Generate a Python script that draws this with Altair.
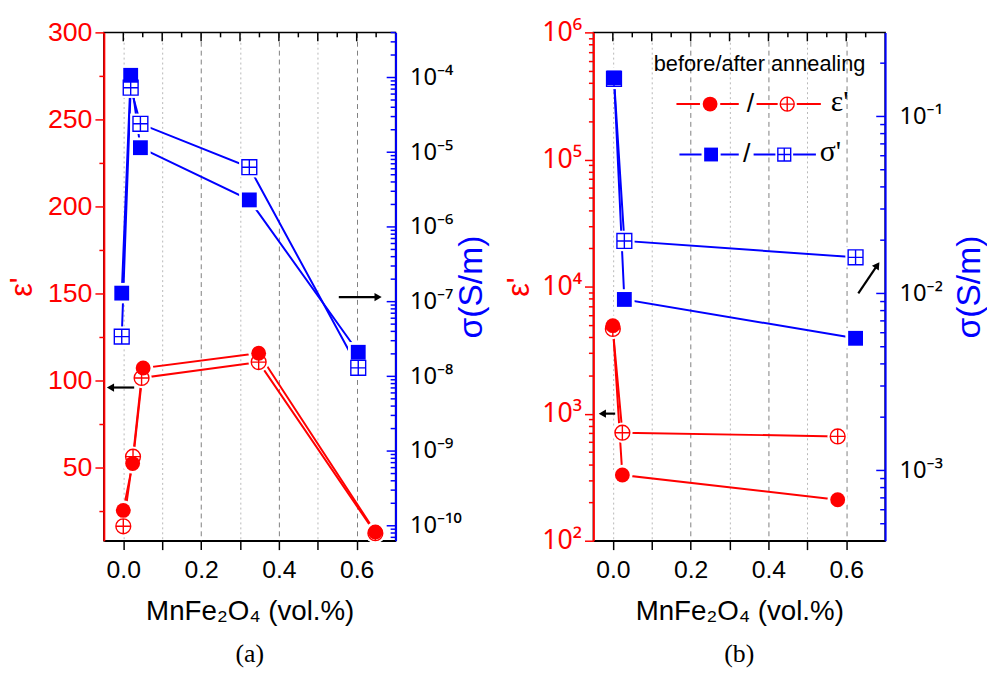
import altair as alt
import pandas as pd

# ---------------- data ----------------
# panel (a): epsilon' (linear, left axis) and sigma (log, right axis)
a_eps_x_before = [0.000, 0.024, 0.051, 0.348, 0.648]
a_eps_before = [25.4, 52.3, 107.2, 115.7, 13.0]
a_eps_x_after = [0.000, 0.025, 0.047, 0.348, 0.648]
a_eps_after = [16.3, 56.3, 101.5, 110.6, 12.3]
a_sig_x_before = [-0.004, 0.019, 0.044, 0.324, 0.604]
a_sig_before = [1.3e-7, 1.07e-4, 1.15e-5, 2.3e-6, 2.1e-8]
a_sig_x_after = [-0.004, 0.019, 0.044, 0.324, 0.604]
a_sig_after = [3.4e-8, 7.3e-5, 2.4e-5, 6.3e-6, 1.3e-8]

# panel (b): epsilon' (log, left axis) and sigma' (log, right axis)
b_eps_x_before = [0.000, 0.0245, 0.578]
b_eps_before = [4920, 329, 210]
b_eps_x_after = [0.000, 0.0245, 0.578]
b_eps_after = [4640, 708, 662]
b_sig_x_before = [0.003, 0.0296, 0.624]
b_sig_before = [0.165, 0.00925, 0.00558]
b_sig_x_after = [0.003, 0.0296, 0.624]
b_sig_after = [0.163, 0.0198, 0.0160]

# axis ticks
x_ticks = [0.0, 0.1, 0.2, 0.3, 0.4, 0.5, 0.6]
x_top_major = [0.0, 0.1, 0.2, 0.3, 0.4, 0.5, 0.6]
x_top_minor = [0.05, 0.15, 0.25, 0.35, 0.45, 0.55, 0.65]
a_eps_ticks = [25, 50, 75, 100, 125, 150, 175, 200, 225, 250, 275, 300]
a_sig_decades = [-10, -9, -8, -7, -6, -5, -4]
b_eps_decades = [2, 3, 4, 5, 6]
b_sig_decades = [-3, -2, -1]

# arrows (tail -> head), data coordinates
a_arrow_eps = {"x": [0.028], "x2": [-0.033], "y": [96.0]}
a_arrow_sig = {"x": [0.554], "x2": [0.655], "y": [1.15e-7]}
b_arrow_eps = {"x": [0.006], "x2": [-0.027], "y": [1000.0]}
b_arrow_sig = {"x": [0.631], "x2": [0.680], "y": [0.0100], "y2": [0.01446]}

# ---------------- style ----------------
RED = "#FF0000"
BLUE = "#0000FF"
SANS = "Liberation Sans, Arial, sans-serif"
SANS_SUP = "Noto Sans, Liberation Sans, DejaVu Sans, sans-serif"
SERIF = "Liberation Serif, Times New Roman, serif"
W, H = 295, 514
XDOM = [-0.05, 0.70]
A_EPS_DOM = [8, 300]
A_SIG_DOM = [10 ** -10.2, 10 ** -3.396]
B_EPS_DOM = [1e2, 1e6]
B_SIG_DOM = [10 ** -3.397, 10 ** -0.525]

SUP = str.maketrans("-0123456789", "⁻⁰¹²³⁴⁵⁶⁷⁸⁹")
DECADE = "abs(log(datum.value)/LN10 - round(log(datum.value)/LN10)) < 0.01"
GRID_MAJOR = "round(datum.value*10) == 2 || round(datum.value*10) == 4 || round(datum.value*10) == 6"

CIRCLE_PLUS = "M-1,0A1,1,0,1,1,1,0A1,1,0,1,1,-1,0ZM-1,0L1,0M0,-1L0,1"
SQUARE_PLUS = "M-1,-1L1,-1L1,1L-1,1ZM-1,0L1,0M0,-1L0,1"


def log_label_expr(decades):
    expr = "''"
    for e in decades:
        expr = f"(abs(log(datum.value)/LN10 - ({e})) < 0.01 ? '10{str(e).translate(SUP)}' : {expr})"
    return expr


def log_ticks(decades, dom):
    vals = []
    for e in range(min(decades) - 1, max(decades) + 1):
        for m in range(1, 10):
            v = m * 10.0 ** e
            if dom[0] * 0.999 <= v <= dom[1] * 1.001:
                vals.append(v)
    return vals


def xenc():
    return alt.X(
        "x:Q",
        scale=alt.Scale(domain=XDOM, nice=False, zero=False),
        axis=alt.Axis(
            values=x_ticks,
            labelExpr="round(datum.value*10) % 2 == 0 ? format(datum.value, '.1f') : ''",
            title="MnFe₂O₄ (vol.%)", titleFont=SANS, titleFontSize=28,
            titleFontWeight="normal", titleColor="black", titlePadding=16,
            labelFont=SANS, labelFontSize=25, labelColor="black", labelPadding=8,
            labelFlush=False,
            tickSize=9, tickColor="black", tickWidth=1.5,
            domainColor="black", domainWidth=1.5,
            grid=True,
            gridColor={"condition": {"test": GRID_MAJOR, "value": "#808080"}, "value": "#b8b8b8"},
            gridDash={"condition": {"test": GRID_MAJOR, "value": [5, 4]}, "value": [2, 3]},
            gridWidth=1,
        ),
    )


def left_axis(values, label_expr, major_test, extent, title_x, label_font):
    return alt.Axis(
        orient="left", values=values, labelExpr=label_expr,
        tickSize={"condition": {"test": major_test, "value": 9}, "value": 5},
        tickColor=RED, tickWidth=1.5, domainColor=RED, domainWidth=2,
        labelColor=RED, labelFont=label_font, labelFontSize=27, labelPadding=3,
        title="ε'", titleColor=RED, titleFont=SANS, titleFontSize=31,
        titleFontWeight="normal", titleAngle=270, titleBaseline="alphabetic",
        titleAlign="center", titleX=title_x, titleY=H / 2,
        minExtent=extent, maxExtent=extent, grid=False,
    )


def right_axis(decades, title_x):
    return alt.Axis(
        orient="right", values=[10.0 ** e for e in decades],
        labelExpr=log_label_expr(decades), ticks=False, tickSize=0,
        domainColor=BLUE, domainWidth=2,
        labelColor="black", labelFont=SANS_SUP, labelFontSize=24, labelPadding=14,
        title="σ(S/m)", titleColor=BLUE, titleFont=SANS, titleFontSize=34,
        titleFontWeight="normal", titleAngle=270, titleBaseline="alphabetic",
        titleAlign="center", titleX=title_x, titleY=H / 2,
        minExtent=52, maxExtent=52, grid=False,
    )


def sdf(xs, ys, name):
    return pd.DataFrame({"x": xs, "y": ys, "s": name, "i": list(range(len(xs)))})


def series_group(xb, yb, xa, ya, color, yenc, filled_shape, open_shape, size):
    before = sdf(xb, yb, "before")
    after = sdf(xa, ya, "after")
    both = pd.concat([before, after], ignore_index=True)
    halo_shape = "circle" if filled_shape == "circle" else "square"
    line = alt.Chart(both).mark_line(color=color, strokeWidth=2).encode(
        x=xenc(), y=yenc, detail="s:N", order="i:Q")
    halo = alt.Chart(both).mark_point(
        shape=halo_shape, filled=True, fill="white", opacity=1, size=size * 1.9,
        strokeWidth=0).encode(x=xenc(), y=yenc)
    m_after = alt.Chart(after).mark_point(
        shape=open_shape, filled=True, fill="white", stroke=color, strokeWidth=1.4,
        opacity=1, size=size).encode(x=xenc(), y=yenc)
    m_before = alt.Chart(before).mark_point(
        shape=filled_shape, filled=True, fill=color, opacity=1, size=size,
        strokeWidth=0).encode(x=xenc(), y=yenc)
    return [line, halo, m_after, m_before]


def right_tick_layers(yenc, decades, dom):
    majors = [10.0 ** e for e in decades]
    minors = [v for v in log_ticks(decades, dom) if v not in majors]
    maj = alt.Chart(pd.DataFrame({"y": majors})).mark_rule(color=BLUE, strokeWidth=1.5).encode(
        y=yenc, x=alt.value(W), x2=alt.value(W - 9))
    mino = alt.Chart(pd.DataFrame({"y": minors})).mark_rule(color=BLUE, strokeWidth=1.5).encode(
        y=yenc, x=alt.value(W), x2=alt.value(W - 5))
    return [maj, mino]


def top_tick_layers(yenc):
    maj = alt.Chart(pd.DataFrame({"x": x_top_major})).mark_rule(color="black", strokeWidth=1.5).encode(
        x=xenc(), y=alt.value(0), y2=alt.value(9))
    mino = alt.Chart(pd.DataFrame({"x": x_top_minor})).mark_rule(color="black", strokeWidth=1.5).encode(
        x=xenc(), y=alt.value(0), y2=alt.value(5))
    return [maj, mino]


def arrow_layers(arrow, yenc, shape, angle=0):
    d = pd.DataFrame(arrow)
    y2 = alt.Y2("y2:Q") if "y2" in arrow else alt.Y2("y:Q")
    shaft = alt.Chart(d).mark_rule(color="black", strokeWidth=2.2).encode(
        x=xenc(), x2=alt.X2("x2:Q"), y=yenc, y2=y2)
    hd = pd.DataFrame({"x": arrow["x2"], "y": arrow.get("y2", arrow["y"])})
    head = alt.Chart(hd).mark_point(shape=shape, angle=angle, filled=True, color="black",
                                    opacity=1, size=70).encode(x=xenc(), y=yenc)
    return [shaft, head]


ONE = pd.DataFrame({"d": [0]})


def lg_rule(x1, x2, y, color):
    return alt.Chart(ONE).mark_rule(color=color, strokeWidth=2).encode(
        x=alt.value(x1), x2=alt.value(x2), y=alt.value(y))


def lg_point(x, y, shape, size, color, filled, halo=True):
    out = []
    if halo:
        out.append(alt.Chart(ONE).mark_point(
            shape="circle" if shape == "circle" or shape == CIRCLE_PLUS else "square",
            filled=True, fill="white", opacity=1, size=size * 1.9, strokeWidth=0).encode(
            x=alt.value(x), y=alt.value(y)))
    if filled:
        out.append(alt.Chart(ONE).mark_point(shape=shape, filled=True, fill=color, opacity=1,
                                             size=size, strokeWidth=0).encode(
            x=alt.value(x), y=alt.value(y)))
    else:
        out.append(alt.Chart(ONE).mark_point(shape=shape, filled=True, fill="white", stroke=color,
                                             strokeWidth=1.4, opacity=1, size=size).encode(
            x=alt.value(x), y=alt.value(y)))
    return out


def lg_text(x, y, text, font, size, align="center"):
    return alt.Chart(ONE).mark_text(text=text, font=font, fontSize=size, color="black",
                                    align=align, baseline="middle").encode(
        x=alt.value(x), y=alt.value(y))


def legend_layers():
    L = [lg_text(168, 32, "before/after annealing", SANS, 22)]
    r1, r2 = 72.5, 123.5
    L += [lg_rule(84, 147, r1, RED), lg_rule(165, 230, r1, RED)]
    L += lg_point(118, r1, "circle", 225, RED, True)
    L += lg_point(196, r1, CIRCLE_PLUS, 200, RED, False)
    L += [lg_text(158.7, r1, "/", SANS, 27), lg_text(240, r1 - 2, "ε'", SERIF, 30, "left")]
    L += [lg_rule(87, 147, r2, BLUE), lg_rule(162, 225, r2, BLUE)]
    L += lg_point(119, r2, "square", 196, BLUE, True)
    L += lg_point(193, r2, SQUARE_PLUS, 169, BLUE, False)
    L += [lg_text(155, r2, "/", SANS, 27), lg_text(229, r2 - 2, "σ'", SERIF, 30, "left")]
    return L


# ---------------- panel (a) ----------------
a_eps_y = alt.Y("y:Q", scale=alt.Scale(domain=A_EPS_DOM, nice=False, zero=False),
                axis=left_axis(a_eps_ticks, "datum.value % 50 == 0 ? datum.label : ''",
                               "datum.value % 50 == 0", 57, -73, SANS))
a_sig_y = alt.Y("y:Q", scale=alt.Scale(type="log", domain=A_SIG_DOM, nice=False),
                axis=right_axis(a_sig_decades, 87))

a_eps_group = alt.layer(
    *top_tick_layers(a_eps_y),
    *series_group(a_eps_x_before, a_eps_before, a_eps_x_after, a_eps_after, RED, a_eps_y,
                  "circle", CIRCLE_PLUS, 225),
    *arrow_layers(a_arrow_eps, a_eps_y, "triangle-left"),
)
a_sig_group = alt.layer(
    *right_tick_layers(a_sig_y, a_sig_decades, A_SIG_DOM),
    *series_group(a_sig_x_before, a_sig_before, a_sig_x_after, a_sig_after, BLUE, a_sig_y,
                  "square", SQUARE_PLUS, 225),
    *arrow_layers(a_arrow_sig, a_sig_y, "triangle-right"),
)
panel_a = alt.layer(a_eps_group, a_sig_group).resolve_scale(y="independent").properties(
    width=W, height=H,
    title=alt.TitleParams("(a)", orient="bottom", font=SERIF, fontSize=26, fontWeight="normal",
                          color="black", offset=16, anchor="middle"))

# ---------------- panel (b) ----------------
b_eps_y = alt.Y("y:Q", scale=alt.Scale(type="log", domain=B_EPS_DOM, nice=False),
                axis=left_axis(log_ticks(b_eps_decades, B_EPS_DOM), log_label_expr(b_eps_decades),
                               DECADE, 51, -66, SANS_SUP))
b_sig_y = alt.Y("y:Q", scale=alt.Scale(type="log", domain=B_SIG_DOM, nice=False),
                axis=right_axis(b_sig_decades, 95))

b_eps_group = alt.layer(
    *top_tick_layers(b_eps_y),
    *series_group(b_eps_x_before, b_eps_before, b_eps_x_after, b_eps_after, RED, b_eps_y,
                  "circle", CIRCLE_PLUS, 225),
    *arrow_layers(b_arrow_eps, b_eps_y, "triangle-left"),
)
b_sig_group = alt.layer(
    *right_tick_layers(b_sig_y, b_sig_decades, B_SIG_DOM),
    *series_group(b_sig_x_before, b_sig_before, b_sig_x_after, b_sig_after, BLUE, b_sig_y,
                  "square", SQUARE_PLUS, 225),
    *arrow_layers(b_arrow_sig, b_sig_y, "triangle-up", 34),
    *legend_layers(),
)
panel_b = alt.layer(b_eps_group, b_sig_group).resolve_scale(y="independent").properties(
    width=W, height=H,
    title=alt.TitleParams("(b)", orient="bottom", font=SERIF, fontSize=26, fontWeight="normal",
                          color="black", offset=16, anchor="middle"))

chart = alt.hconcat(panel_a, panel_b, spacing=13).properties(
    padding={"left": 6, "top": 14, "right": 0, "bottom": 0},
    background="white",
).configure_view(stroke="black", strokeWidth=1.5)

chart.save("out.html", embed_options={"renderer": "svg", "actions": False})
